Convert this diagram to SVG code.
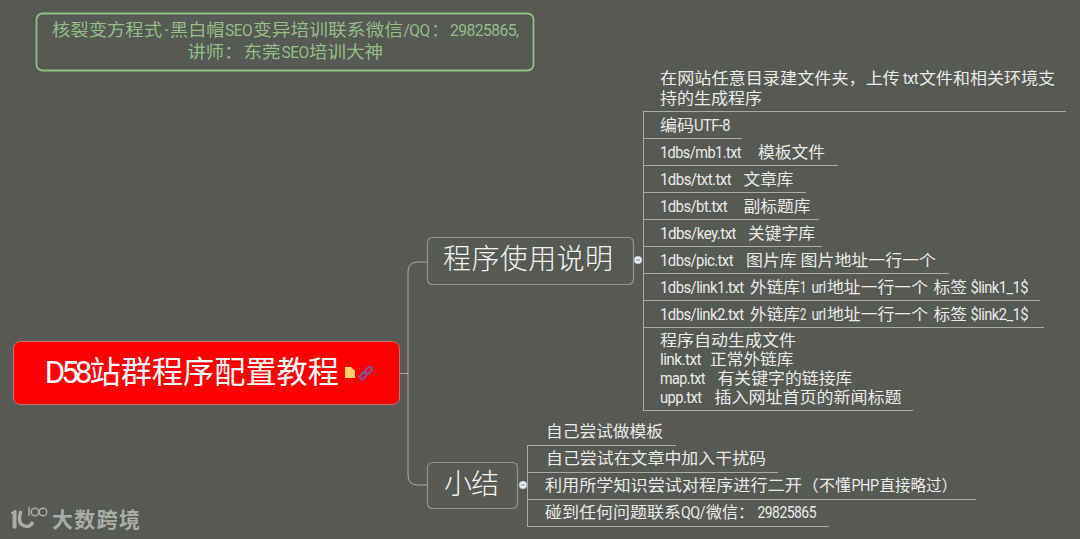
<svg xmlns="http://www.w3.org/2000/svg" width="1080" height="539" viewBox="0 0 1080 539">
<style>
text{font-family:"Noto Sans CJK SC",sans-serif;fill:#eaeae8;font-size:15.500px}
.l{font-family:"Roboto",sans-serif;font-size:16px;letter-spacing:-.6px}
.c{font-family:"Noto Sans CJK SC",sans-serif}
.big{font-size:28px;fill:#f4f4f2;font-weight:300}
.hd{fill:#93bf85;font-size:16.500px}
.ln{fill:none;stroke:#a9aaa6;stroke-width:1}
.box{fill:#575955;stroke:#90928e;stroke-width:1.200}
.wm{fill:#a9aba7;font-size:21px;font-weight:700}
.tg{fill:#eef1f6;stroke:#b9bdc6}
</style>
<rect width="1080" height="539" fill="#575955"/>
<g id="connectors">
<path class="ln" d="M400 373.500H408M408 373V272Q408 262 418 262H427M408 373V475Q408 485 418 485H427"/>
<path class="ln" d="M643.500 111V411M643 111.500H1066M643 138.500H742M643 165.500H838M643 192.500H806M643 219.500H819M643 246.500H822M643 273.500H949M643 300.500H1040M643 327.500H1044M643 410.500H913"/>
<path class="ln" d="M527.500 445V526M527 445.500H676M527 472.500H778M527 499.500H976M527 526.500H829"/>
</g>
<g id="header"><rect x="36.500" y="13.500" width="497" height="57" rx="6" fill="none" stroke="#93bf85" stroke-width="1.800"/>
<text class="hd" y="36"><tspan x="52" textLength="110" lengthAdjust="spacingAndGlyphs">核裂变方程式</tspan><tspan class="l" x="163" textLength="6" lengthAdjust="spacingAndGlyphs">·</tspan><tspan x="170" textLength="54.500" lengthAdjust="spacingAndGlyphs">黑白帽</tspan><tspan class="l" x="225" textLength="27" lengthAdjust="spacingAndGlyphs">SEO</tspan><tspan x="253" textLength="150" lengthAdjust="spacingAndGlyphs">变异培训联系微信</tspan><tspan class="l" x="403.500" textLength="26" lengthAdjust="spacingAndGlyphs">/QQ</tspan><tspan x="432" textLength="14" lengthAdjust="spacingAndGlyphs">：</tspan><tspan class="l" x="450" textLength="68.500" lengthAdjust="spacingAndGlyphs">29825865,</tspan></text>
<text class="hd" y="58"><tspan x="187.500" textLength="55" lengthAdjust="spacingAndGlyphs">讲师：</tspan><tspan x="243.500" textLength="37" lengthAdjust="spacingAndGlyphs">东莞</tspan><tspan class="l" x="281.500" textLength="27" lengthAdjust="spacingAndGlyphs">SEO</tspan><tspan x="309" textLength="74" lengthAdjust="spacingAndGlyphs">培训大神</tspan></text></g>
<g id="root"><rect x="13.500" y="341.500" width="386" height="63" rx="7" fill="#ff0000" stroke="#c9736c"/>
<text y="383" style="font-size:31px;fill:#fff"><tspan x="44.800" textLength="43.500" lengthAdjust="spacingAndGlyphs" style="font-family:Roboto,sans-serif;letter-spacing:-4px">D58</tspan><tspan x="89.500" textLength="249.500" lengthAdjust="spacingAndGlyphs">站群程序配置教程</tspan></text>
<path d="M345 367H351L355 371V378H345Z" fill="#fbd36a"/>
<g fill="none" stroke="#6f5cb0" stroke-width="1.800"><rect x="-4" y="-2" width="7.500" height="4.500" rx="2.200" transform="translate(363 375.500) rotate(-45)"/><rect x="-4" y="-2" width="7.500" height="4.500" rx="2.200" transform="translate(368.500 370) rotate(-45)"/></g></g>
<g id="n1"><rect x="427.500" y="237.500" width="206" height="47" rx="5" class="box"/>
<text class="big c" x="443" y="269" textLength="170">程序使用说明</text>
<circle class="tg" cx="638" cy="260" r="3.800"/><path d="M636 260H640" stroke="#777"/></g>
<g id="n2"><rect x="427.500" y="462.500" width="90" height="46" rx="5" class="box"/>
<text class="big c" x="444" y="494" textLength="55">小结</text>
<circle class="tg" cx="523" cy="485" r="3.800"/><path d="M521 485H525" stroke="#777"/></g>
<g id="items1">
<text y="84"><tspan x="660" textLength="240" lengthAdjust="spacingAndGlyphs">在网站任意目录建文件夹，上传</tspan><tspan class="l" x="903" textLength="15" lengthAdjust="spacingAndGlyphs">txt</tspan><tspan x="919" textLength="136" lengthAdjust="spacingAndGlyphs">文件和相关环境支</tspan></text>
<text x="660" y="104" textLength="102" lengthAdjust="spacingAndGlyphs">持的生成程序</text>
<text y="131"><tspan x="660" textLength="34" lengthAdjust="spacingAndGlyphs">编码</tspan><tspan class="l" x="694" textLength="36" lengthAdjust="spacingAndGlyphs">UTF-8</tspan></text>
<text y="158"><tspan class="l" x="660" textLength="81" lengthAdjust="spacingAndGlyphs">1dbs/mb1.txt</tspan><tspan x="758" textLength="67" lengthAdjust="spacingAndGlyphs">模板文件</tspan></text>
<text y="185"><tspan class="l" x="660" textLength="71" lengthAdjust="spacingAndGlyphs">1dbs/txt.txt</tspan><tspan x="743.500" textLength="50" lengthAdjust="spacingAndGlyphs">文章库</tspan></text>
<text y="212"><tspan class="l" x="660" textLength="67" lengthAdjust="spacingAndGlyphs">1dbs/bt.txt</tspan><tspan x="743.500" textLength="67" lengthAdjust="spacingAndGlyphs">副标题库</tspan></text>
<text y="239"><tspan class="l" x="660" textLength="76" lengthAdjust="spacingAndGlyphs">1dbs/key.txt</tspan><tspan x="748" textLength="67" lengthAdjust="spacingAndGlyphs">关键字库</tspan></text>
<text y="266"><tspan class="l" x="660" textLength="73" lengthAdjust="spacingAndGlyphs">1dbs/pic.txt</tspan><tspan x="746" textLength="190" lengthAdjust="spacingAndGlyphs">图片库 图片地址一行一个</tspan></text>
<text y="293"><tspan class="l" x="660" textLength="83.500" lengthAdjust="spacingAndGlyphs">1dbs/link1.txt</tspan><tspan x="750" textLength="50" lengthAdjust="spacingAndGlyphs">外链库</tspan><tspan class="l" x="800" textLength="6" lengthAdjust="spacingAndGlyphs">1</tspan><tspan class="l" x="811.500" textLength="14" lengthAdjust="spacingAndGlyphs">url</tspan><tspan x="827" textLength="101" lengthAdjust="spacingAndGlyphs">地址一行一个</tspan><tspan x="933.500" textLength="33.500" lengthAdjust="spacingAndGlyphs">标签</tspan><tspan class="l" x="970.500" textLength="57.500" lengthAdjust="spacingAndGlyphs">$link1_1$</tspan></text>
<text y="320"><tspan class="l" x="660" textLength="83.500" lengthAdjust="spacingAndGlyphs">1dbs/link2.txt</tspan><tspan x="750" textLength="50" lengthAdjust="spacingAndGlyphs">外链库</tspan><tspan class="l" x="800" textLength="6" lengthAdjust="spacingAndGlyphs">2</tspan><tspan class="l" x="811.500" textLength="14" lengthAdjust="spacingAndGlyphs">url</tspan><tspan x="827" textLength="101" lengthAdjust="spacingAndGlyphs">地址一行一个</tspan><tspan x="933.500" textLength="33.500" lengthAdjust="spacingAndGlyphs">标签</tspan><tspan class="l" x="970.500" textLength="57.500" lengthAdjust="spacingAndGlyphs">$link2_1$</tspan></text>
<text x="660" y="346" textLength="136" lengthAdjust="spacingAndGlyphs">程序自动生成文件</text>
<text y="365"><tspan class="l" x="660" textLength="41" lengthAdjust="spacingAndGlyphs">link.txt</tspan><tspan x="710" textLength="83.500" lengthAdjust="spacingAndGlyphs">正常外链库</tspan></text>
<text y="384"><tspan class="l" x="660" textLength="45" lengthAdjust="spacingAndGlyphs">map.txt</tspan><tspan x="717.500" textLength="135" lengthAdjust="spacingAndGlyphs">有关键字的链接库</tspan></text>
<text y="403"><tspan class="l" x="660" textLength="41.500" lengthAdjust="spacingAndGlyphs">upp.txt</tspan><tspan x="714.500" textLength="187" lengthAdjust="spacingAndGlyphs">插入网址首页的新闻标题</tspan></text>
</g>
<g id="items2">
<text x="546" y="437" textLength="117" lengthAdjust="spacingAndGlyphs">自己尝试做模板</text>
<text x="546" y="464" textLength="220" lengthAdjust="spacingAndGlyphs">自己尝试在文章中加入干扰码</text>
<text y="491"><tspan x="545" textLength="274" lengthAdjust="spacingAndGlyphs">利用所学知识尝试对程序进行二开（</tspan><tspan x="819" textLength="32" lengthAdjust="spacingAndGlyphs">不懂</tspan><tspan class="l" x="851.500" textLength="27" lengthAdjust="spacingAndGlyphs">PHP</tspan><tspan x="879.500" textLength="77.500" lengthAdjust="spacingAndGlyphs">直接略过）</tspan></text>
<text y="518"><tspan x="545" textLength="136" lengthAdjust="spacingAndGlyphs">碰到任何问题联系</tspan><tspan class="l" x="681" textLength="24" lengthAdjust="spacingAndGlyphs">QQ/</tspan><tspan x="706" textLength="48" lengthAdjust="spacingAndGlyphs">微信：</tspan><tspan class="l" x="757.500" textLength="58.500" lengthAdjust="spacingAndGlyphs">29825865</tspan></text>
</g>
<g id="watermark">
<path d="M11 513L16 510V528H13V514Z" fill="#a9aba7" stroke="#a9aba7"/>
<path d="M21 511Q18 519 21 524Q28 530 33 522" fill="none" stroke="#a9aba7" stroke-width="3.500"/>
<path d="M29 507V516" stroke="#a9aba7" stroke-width="1.500"/>
<circle cx="35" cy="512" r="3.800" fill="none" stroke="#a9aba7" stroke-width="1.500"/><circle cx="43" cy="512" r="3.800" fill="none" stroke="#a9aba7" stroke-width="1.500"/>
<text class="wm c" x="52" y="527" textLength="88">大数跨境</text></g>
</svg>
